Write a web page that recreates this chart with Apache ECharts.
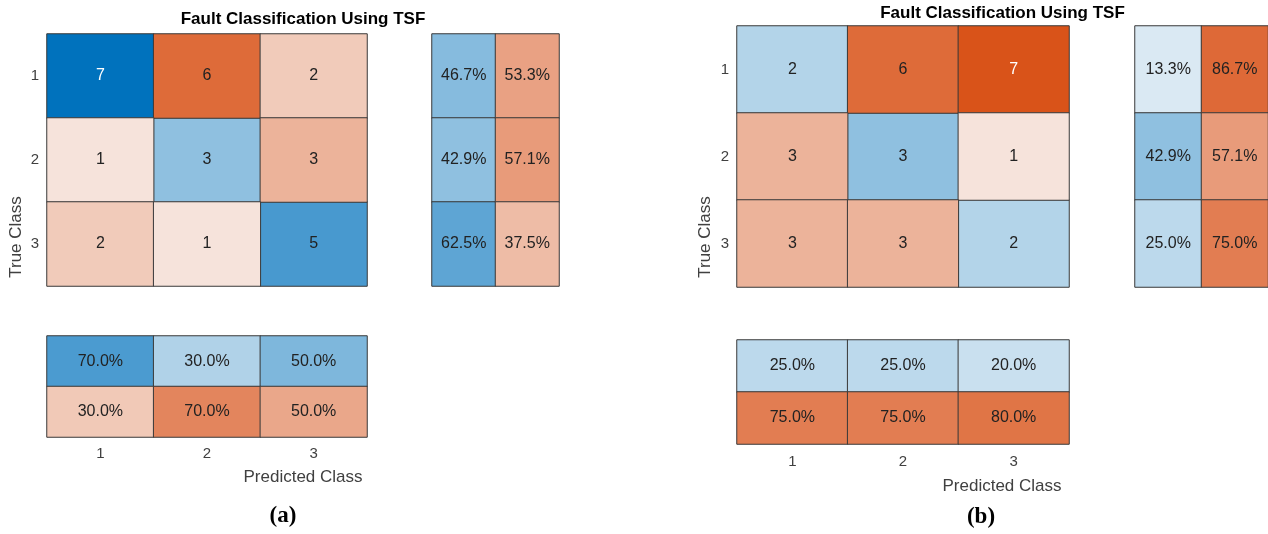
<!DOCTYPE html>
<html>
<head>
<meta charset="utf-8">
<script src="https://cdn.jsdelivr.net/npm/echarts@6/dist/echarts.min.js"></script>
<style>
  html, body { margin: 0; padding: 0; background: #fff; }
  #chart { width: 1268px; height: 534px; }
</style>
</head>
<body>
<div id="chart"></div>
<script>
// class names
const classes = ['1', '2', '3'];

// (a) confusion counts, row = true class, col = predicted class
const countsA = [[7, 6, 2], [1, 3, 3], [2, 1, 5]];
// (a) row summary: [correct %, incorrect %] per true class
const rowPctA = [[46.7, 53.3], [42.9, 57.1], [62.5, 37.5]];
// (a) column summary: first row correct %, second row incorrect %
const colPctA = [[70.0, 30.0, 50.0], [30.0, 70.0, 50.0]];

// (b)
const countsB = [[2, 6, 7], [3, 3, 1], [3, 3, 2]];
const rowPctB = [[13.3, 86.7], [42.9, 57.1], [25.0, 75.0]];
const colPctB = [[25.0, 25.0, 20.0], [75.0, 75.0, 80.0]];

const chartTitle = 'Fault Classification Using TSF';
const captions = ['(a)', '(b)'];

const BLUE = '#0072BD';
const ORANGE = '#D95319';
const FONT = '"Liberation Sans", Arial, sans-serif';

// pixel layout of each panel
const panels = [
    {
        counts: countsA, rowPct: rowPctA, colPct: colPctA,
        main: { left: 47, top: 34, width: 320, height: 252 },
        right: { left: 432, top: 34, width: 127, height: 252 },
        bottom: { left: 47, top: 336, width: 320, height: 101 },
        titleY: 19, yNameX: 16, yNameY: 237, xNameX: 303, xNameY: 477,
        capX: 283, capY: 516, xLabelMargin: 9,
    },
    {
        counts: countsB, rowPct: rowPctB, colPct: colPctB,
        main: { left: 737, top: 26, width: 332, height: 261 },
        right: { left: 1135, top: 26, width: 133, height: 261 },
        bottom: { left: 737, top: 340, width: 332, height: 104 },
        titleY: 13, yNameX: 705, yNameY: 237, xNameX: 1002, xNameY: 486,
        capX: 981, capY: 517, xLabelMargin: 10,
    },
];

const grid = [], xAxis = [], yAxis = [], series = [], visualMap = [], graphic = [];

function catAxis(data, gridIndex, showLabel, extra) {
    return Object.assign({
        type: 'category', data: data, gridIndex: gridIndex,
        axisLine: { show: false }, axisTick: { show: false }, splitLine: { show: false },
        axisLabel: { show: showLabel, color: '#404040', fontSize: 15, fontFamily: FONT },
    }, extra || {});
}

function cellItem(x, y, v, dark) {
    return { value: [x, y, v], label: { color: dark ? '#ffffff' : '#222222' } };
}

function heat(name, gridIndex, data, pct) {
    return {
        name: name, type: 'heatmap',
        xAxisIndex: gridIndex, yAxisIndex: gridIndex,
        data: data,
        itemStyle: { borderColor: '#3a3a3a', borderWidth: 1 },
        label: {
            show: true, fontSize: 16, fontFamily: FONT,
            formatter: (p) => pct ? p.value[2].toFixed(1) + '%' : String(p.value[2]),
        },
        emphasis: { disabled: true },
    };
}

panels.forEach((p, k) => {
    const g0 = k * 3;
    grid.push(p.main, p.right, p.bottom);

    // main matrix
    xAxis.push(catAxis(classes, g0, false));
    yAxis.push(catAxis(classes, g0, true, { inverse: true, axisLabel: { color: '#404040', fontSize: 15, fontFamily: FONT, margin: 8 } }));
    // row summary
    xAxis.push(catAxis(['c', 'i'], g0 + 1, false));
    yAxis.push(catAxis(classes, g0 + 1, false, { inverse: true }));
    // column summary
    xAxis.push(catAxis(classes, g0 + 2, true, { axisLabel: { color: '#404040', fontSize: 15, fontFamily: FONT, margin: p.xLabelMargin } }));
    yAxis.push(catAxis(['c', 'i'], g0 + 2, false, { inverse: true }));

    const maxCount = Math.max(...p.counts.flat());
    const diag = [], off = [];
    p.counts.forEach((row, i) => row.forEach((v, j) => {
        (i === j ? diag : off).push(cellItem(j, i, v, v / maxCount > 0.9));
    }));
    const rowOk = p.rowPct.map((r, i) => cellItem(0, i, r[0], r[0] > 90));
    const rowBad = p.rowPct.map((r, i) => cellItem(1, i, r[1], r[1] > 90));
    const colOk = p.colPct[0].map((v, j) => cellItem(j, 0, v, v > 90));
    const colBad = p.colPct[1].map((v, j) => cellItem(j, 1, v, v > 90));

    const s0 = series.length;
    series.push(
        heat('diag', g0, diag, false),
        heat('off', g0, off, false),
        heat('rowOk', g0 + 1, rowOk, true),
        heat('rowBad', g0 + 1, rowBad, true),
        heat('colOk', g0 + 2, colOk, true),
        heat('colBad', g0 + 2, colBad, true)
    );

    const vm = (idx, max, color) => ({
        type: 'continuous', show: false, dimension: 2, seriesIndex: idx,
        min: 0, max: max, inRange: { color: ['#fbfbfb', color] },
    });
    visualMap.push(
        vm([s0], maxCount, BLUE),
        vm([s0 + 1], maxCount, ORANGE),
        vm([s0 + 2, s0 + 4], 100, BLUE),
        vm([s0 + 3, s0 + 5], 100, ORANGE)
    );

    const figCenter = (p.main.left + p.right.left + p.right.width) / 2;
    graphic.push(
        { type: 'text', x: figCenter, y: p.titleY, style: { text: chartTitle, font: 'bold 17px ' + FONT, fill: '#000', align: 'center', verticalAlign: 'middle' } },
        { type: 'text', x: p.yNameX, y: p.yNameY, rotation: Math.PI / 2, style: { text: 'True Class', font: '17px ' + FONT, fill: '#404040', align: 'center', verticalAlign: 'middle' } },
        { type: 'text', x: p.xNameX, y: p.xNameY, style: { text: 'Predicted Class', font: '17px ' + FONT, fill: '#404040', align: 'center', verticalAlign: 'middle' } },
        { type: 'text', x: p.capX, y: p.capY, style: { text: captions[k], font: 'bold 23px "Liberation Serif", "DejaVu Serif", serif', fill: '#000', align: 'center', verticalAlign: 'middle' } }
    );
});

const myChart = echarts.init(document.getElementById('chart'));
const option = {
    animation: false,
    grid: grid,
    xAxis: xAxis,
    yAxis: yAxis,
    visualMap: visualMap,
    series: series,
    graphic: graphic,
};
myChart.setOption(option);
</script>
</body>
</html>
